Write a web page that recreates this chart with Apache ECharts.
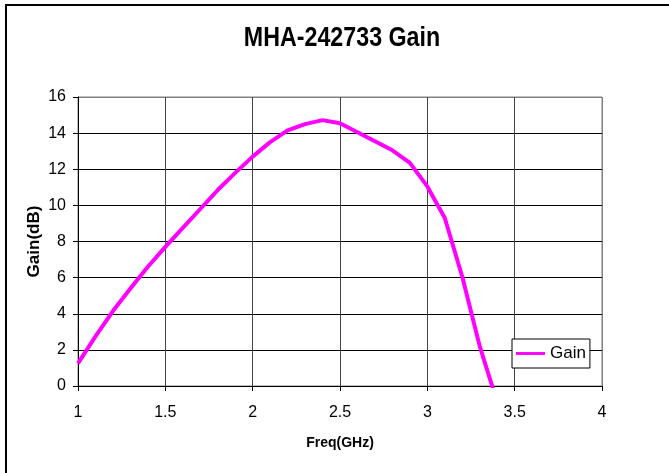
<!DOCTYPE html>
<html>
<head>
<meta charset="utf-8">
<script src="https://cdn.jsdelivr.net/npm/echarts@6/dist/echarts.min.js"></script>
<style>
html,body{margin:0;padding:0;background:#fff;}
#chart{width:669px;height:473px;}
</style>
</head>
<body>
<div id="chart"></div>
<script>
var titleText = 'MHA-242733 Gain';
var seriesName = 'Gain';
var xAxisName = 'Freq(GHz)';
var yAxisName = 'Gain(dB)';
var freqs = [1.0,1.1,1.2,1.3,1.4,1.5,1.6,1.7,1.8,1.9,2.0,2.1,2.2,2.3,2.4,2.5,2.6,2.7,2.8,2.9,3.0,3.1,3.2,3.3,3.4];
var gains = [1.25,2.75,4.15,5.4,6.6,7.7,8.75,9.8,10.85,11.8,12.7,13.5,14.15,14.5,14.72,14.55,14.05,13.55,13.05,12.35,11.05,9.3,6.05,2.2,-0.9];

var chart = echarts.init(document.getElementById('chart'), null, {renderer:'canvas'});
var data = freqs.map(function(f,i){return [f, gains[i]];});
var fam = 'Liberation Sans, Arial, sans-serif';
var ySplitColors = ['#000','#000','#000','#000','#000','#000','#000','#000','#808080'];
var xSplitColors = ['#444','#444','#444','#444','#444','#444','#808080'];
chart.setOption({
  backgroundColor:'#fff',
  animation:false,
  textStyle:{fontFamily:fam},
  graphic:[
    {type:'rect', shape:{x:6,y:5,width:700,height:500}, style:{fill:'none', stroke:'#000', lineWidth:2}, silent:true, z:100},
    {type:'text', x:342, y:38, scaleX:0.83, style:{text:titleText, fill:'#000', font:'bold 28px '+fam, textAlign:'center', textVerticalAlign:'middle'}}
  ],
  grid:{left:78, right:67, top:97, bottom:87, show:true, borderColor:'#808080', borderWidth:1, backgroundColor:'#fff'},
  legend:{
    left:512, top:339, orient:'vertical',
    backgroundColor:'#fff', borderColor:'#000', borderWidth:1,
    padding:[6,4,6,4], itemWidth:29, itemHeight:14,
    textStyle:{fontSize:17, color:'#000', fontFamily:fam},
    data:[{name:seriesName, icon:'path://M0,0 L10,0 L10,1 L0,1 Z'}]
  },
  xAxis:{
    type:'value', min:1, max:4, interval:0.5,
    name:xAxisName, nameLocation:'middle', nameGap:50, nameMoveOverlap:false,
    nameTextStyle:{fontSize:14, fontWeight:'bold', color:'#000'},
    axisLine:{show:true, onZero:false, lineStyle:{color:'#000', width:1}},
    axisTick:{show:true, inside:false, length:5, lineStyle:{color:'#000'}},
    axisLabel:{fontSize:16, color:'#000', margin:19},
    splitLine:{show:true, lineStyle:{color:xSplitColors, width:1}}
  },
  yAxis:{
    type:'value', min:0, max:16, interval:2,
    name:yAxisName, nameLocation:'middle', nameGap:35, nameRotate:90, nameMoveOverlap:false,
    nameTextStyle:{fontSize:17, fontWeight:'bold', color:'#000'},
    axisLine:{show:true, onZero:false, lineStyle:{color:'#000', width:1}},
    axisTick:{show:true, inside:false, length:5, lineStyle:{color:'#000'}},
    axisLabel:{fontSize:16, color:'#000', margin:12},
    splitLine:{show:true, lineStyle:{color:ySplitColors, width:1}}
  },
  series:[{
    name:seriesName, type:'line', data:data, symbol:'none', showSymbol:false,
    clip:true, smooth:false,
    itemStyle:{color:'#FF00FF'},
    lineStyle:{color:'#FF00FF', width:4}
  }]
});
</script>
</body>
</html>
